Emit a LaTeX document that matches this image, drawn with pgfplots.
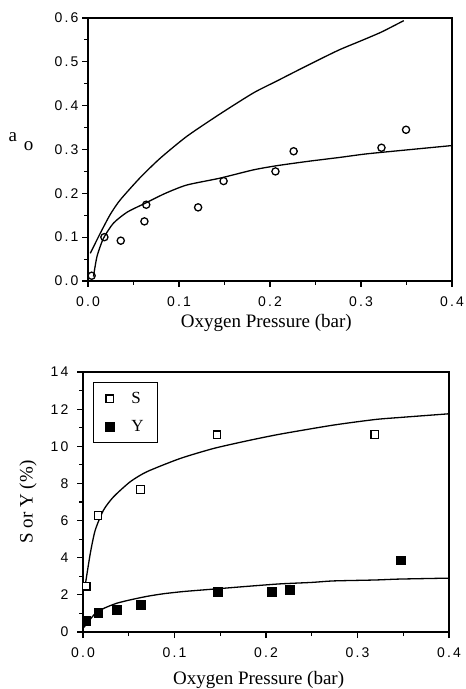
\documentclass[border=0pt]{standalone}
\usepackage{fontspec}
\setmainfont{Liberation Serif}
\newfontfamily\tickfont[LetterSpace=16]{Liberation Sans}
\usepackage{pgfplots}
\pgfplotsset{compat=1.18}

\pgfplotsset{
  panel/.style={
    scale only axis,
    anchor=south west,
    xmin=0, xmax=0.4,
    xtick={0,0.1,0.2,0.3,0.4},
    minor x tick num=1,
    minor y tick num=1,
    tick pos=left,
    tick align=outside,
    major tick length=6pt,
    minor tick length=4pt,
    axis line style={line width=1.2pt},
    every tick/.style={line width=1.1pt, black},
    ticklabel style={font=\tickfont\fontsize{14}{14}\selectfont},
    /pgf/number format/assume math mode=true,
    xticklabel style={yshift=-6pt, /pgf/number format/.cd, fixed, fixed zerofill, precision=1},
    label style={font=\fontsize{19}{19}\selectfont},
  },
  curve/.style={black, line width=1.3pt, smooth, tension=0.4, no marks},
}

\begin{document}
\begin{tikzpicture}
\useasboundingbox (0pt,0pt) rectangle (466pt,689pt);

% top panel: a_o versus oxygen pressure
\begin{axis}[panel,
  at={(88pt,408pt)}, width=364pt, height=263pt,
  ymin=0, ymax=0.6,
  ytick={0,0.1,0.2,0.3,0.4,0.5,0.6},
  yticklabel style={/pgf/number format/.cd, fixed, fixed zerofill, precision=1},
  xlabel={Oxygen Pressure (bar)},
  xlabel style={at={(axis description cs:0.49,0)}, anchor=north, yshift=-30pt},
  ylabel={a\hspace{7pt}\raisebox{-9pt}{o}},
  ylabel style={rotate=-90, at={(axis description cs:-0.184,0.53)}, anchor=center},
]
\addplot[curve] coordinates {
  (0.0025,0.063) (0.0135,0.109) (0.0245,0.152) (0.0354,0.185) (0.0574,0.236)
  (0.0793,0.280) (0.1086,0.330) (0.145,0.381) (0.1817,0.429) (0.2073,0.456)
  (0.229,0.479) (0.2549,0.506) (0.2768,0.528) (0.30,0.548) (0.3225,0.568)
  (0.347,0.594)
};
\addplot[curve] coordinates {
  (0.006,0.01) (0.0099,0.056) (0.017,0.0975) (0.028,0.132) (0.043,0.157)
  (0.0629,0.1775) (0.085,0.200) (0.1086,0.219) (0.145,0.2346) (0.1817,0.2535)
  (0.2073,0.263) (0.240,0.2725) (0.2768,0.282) (0.306,0.290) (0.35,0.299)
  (0.4,0.309)
};
\addplot[only marks, mark=o, mark size=3.6pt, line width=1.3pt,
  mark options={fill=white}] coordinates {
  (0.004,0.012) (0.018,0.100) (0.036,0.092) (0.062,0.136) (0.064,0.174)
  (0.121,0.168) (0.149,0.228) (0.206,0.250) (0.226,0.296) (0.3225,0.304)
  (0.3495,0.345)
};
\end{axis}

% bottom panel: S and Y versus oxygen pressure
\begin{axis}[panel,
  at={(83pt,57pt)}, width=366pt, height=260pt,
  ymin=0, ymax=14,
  ytick={0,2,4,6,8,10,12,14},
  yticklabel style={xshift=-5pt},
  xlabel={Oxygen Pressure (bar)},
  xlabel style={at={(axis description cs:0.48,0)}, anchor=north, yshift=-36pt},
  ylabel={S or Y (\%)},
  ylabel style={at={(axis description cs:-0.15,0.5)}, anchor=center},
  legend style={at={(axis description cs:0.027,0.962)}, anchor=north west,
    draw=black, line width=1.2pt, inner xsep=12pt, inner ysep=8pt,
    row sep=11pt, column sep=15pt, font=\fontsize{17}{17}\selectfont},
  legend cell align=left,
  legend image code/.code={\draw[#1] plot coordinates {(0cm,0cm)};},
]
\addplot[curve, forget plot] coordinates {
  (0.0025,2.54) (0.008,4.24) (0.0134,5.49) (0.0225,6.57) (0.0334,7.28)
  (0.0516,8.09) (0.0698,8.63) (0.106,9.34) (0.1425,9.88) (0.179,10.29)
  (0.215,10.65) (0.2735,11.14) (0.319,11.44) (0.346,11.55) (0.4,11.75)
};
\addplot[curve, forget plot] coordinates {
  (0.001,0.25) (0.0134,1.0) (0.024,1.3) (0.037,1.55) (0.0516,1.73)
  (0.07,1.92) (0.088,2.06) (0.11,2.18) (0.1425,2.31) (0.18,2.46)
  (0.215,2.59) (0.25,2.67) (0.2735,2.75) (0.319,2.8) (0.346,2.85) (0.4,2.9)
};
\addplot[only marks, mark=square*, mark size=3.8pt, line width=1.2pt,
  mark options={fill=white, draw=black}] coordinates {
  (0.0036,2.47) (0.0164,6.27) (0.063,7.68) (0.1465,10.62) (0.319,10.63)
};
\addplot[only marks, mark=square*, mark size=4.4pt, black] coordinates {
  (0.0036,0.61) (0.0167,1.04) (0.037,1.2) (0.063,1.45) (0.147,2.18)
  (0.206,2.17) (0.226,2.27) (0.3476,3.87)
};
\legend{S,Y}
\end{axis}
\end{tikzpicture}
\end{document}
